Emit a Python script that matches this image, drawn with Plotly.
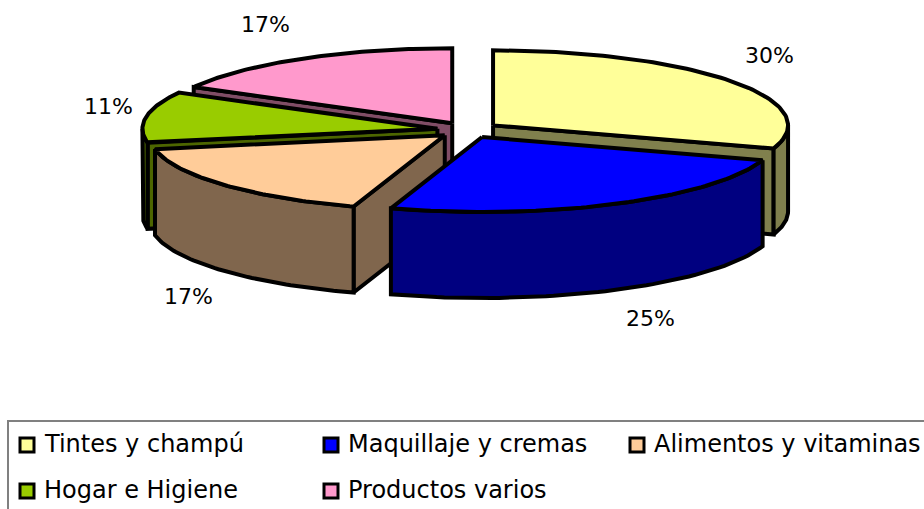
import numpy as np
import plotly.graph_objects as go

categories = ["Tintes y champú", "Maquillaje y cremas", "Alimentos y vitaminas", "Hogar e Higiene", "Productos varios"]
values = [30, 25, 17, 11, 17]
top_colors = ["#FFFF99", "#0000FF", "#FFCC99", "#99CC00", "#FF99CC"]
side_colors = ["#80804D", "#000080", "#80664D", "#4D6600", "#804D66"]

W, H = 924, 509
CX, CY = 468, 130      # pie centre on the page
RX, RY = 295, 75       # projected radii
DEPTH = 86
EXPLODE = 0.105
LW = 4
FONT = "DejaVu Sans"
FS_L, FS_T = 22, 24

fig = go.Figure()

def poly(xs, ys, fill):
    fig.add_trace(go.Scatter(x=list(xs) + [xs[0]], y=list(ys) + [ys[0]], mode="lines", fill="toself",
                             fillcolor=fill, line=dict(color="black", width=LW), hoverinfo="skip",
                             showlegend=False))

total = sum(values)
edges = np.concatenate([[0], np.cumsum(values)]) / total * 2 * np.pi

slices = []
for i, v in enumerate(values):
    a, b = edges[i], edges[i + 1]
    m = (a + b) / 2
    cx = CX + EXPLODE * RX * np.sin(m)
    cy = CY - EXPLODE * RY * np.cos(m)
    slices.append((i, a, b, cx, cy))

def rim(cx, cy, t):
    return cx + RX * np.sin(t), cy - RY * np.cos(t)

# back to front: pink, green, yellow, peach, blue
for i, a, b, cx, cy in [slices[k] for k in (4, 3, 0, 2, 1)]:
    for t, sign in ((a, -1), (b, 1)):
        if sign * np.sin(t) > 1e-6:
            rx_, ry_ = rim(cx, cy, t)
            poly([cx, rx_, rx_, cx], [cy, ry_, ry_ + DEPTH, cy + DEPTH], side_colors[i])
    lo, hi = max(a, np.pi / 2), min(b, 3 * np.pi / 2)
    if hi > lo:
        t = np.linspace(lo, hi, 60)
        xs, ys = rim(cx, cy, t)
        poly(list(xs) + list(xs[::-1]), list(ys) + list(ys[::-1] + DEPTH), side_colors[i])
    t = np.linspace(a, b, 80)
    xs, ys = rim(cx, cy, t)
    poly([cx] + list(xs), [cy] + list(ys), top_colors[i])

# percentage labels
label_xy = [(769, 55), (650, 318), (188, 296), (108, 106), (265, 24)]
annotations = []
for v, (x, y) in zip(values, label_xy):
    annotations.append(dict(x=x, y=y, xref="x", yref="y", text=f"{round(v / total * 100)}%", showarrow=False,
                            font=dict(family=FONT, size=FS_L, color="black"), xanchor="center", yanchor="middle"))

# legend
leg_pos = [(27, 445), (331, 445), (637, 445), (27, 491), (331, 491)]
for name, col, (x, y) in zip(categories, top_colors, leg_pos):
    fig.add_trace(go.Scatter(x=[x], y=[y], mode="markers", hoverinfo="skip", showlegend=False,
                             marker=dict(symbol="square", size=14, color=col, line=dict(color="black", width=3))))
    annotations.append(dict(x=x + 15, y=y - 1, xref="x", yref="y", text=name, showarrow=False,
                            font=dict(family=FONT, size=FS_T, color="black"), xanchor="left", yanchor="middle"))

fig.update_layout(
    width=W, height=H, margin=dict(l=0, r=0, t=0, b=0), autosize=False,
    paper_bgcolor="white", plot_bgcolor="white",
    xaxis=dict(range=[0, W], visible=False, fixedrange=True),
    yaxis=dict(range=[H, 0], visible=False, fixedrange=True),
    annotations=annotations,
    shapes=[dict(type="rect", xref="x", yref="y", x0=8, y0=421, x1=W + 10, y1=H + 10,
                 line=dict(color="#808080", width=2), layer="below")],
)
fig.write_html("out.html", config={"displayModeBar": False},
               post_script="document.body.style.margin='0';document.body.style.overflow='hidden';")
